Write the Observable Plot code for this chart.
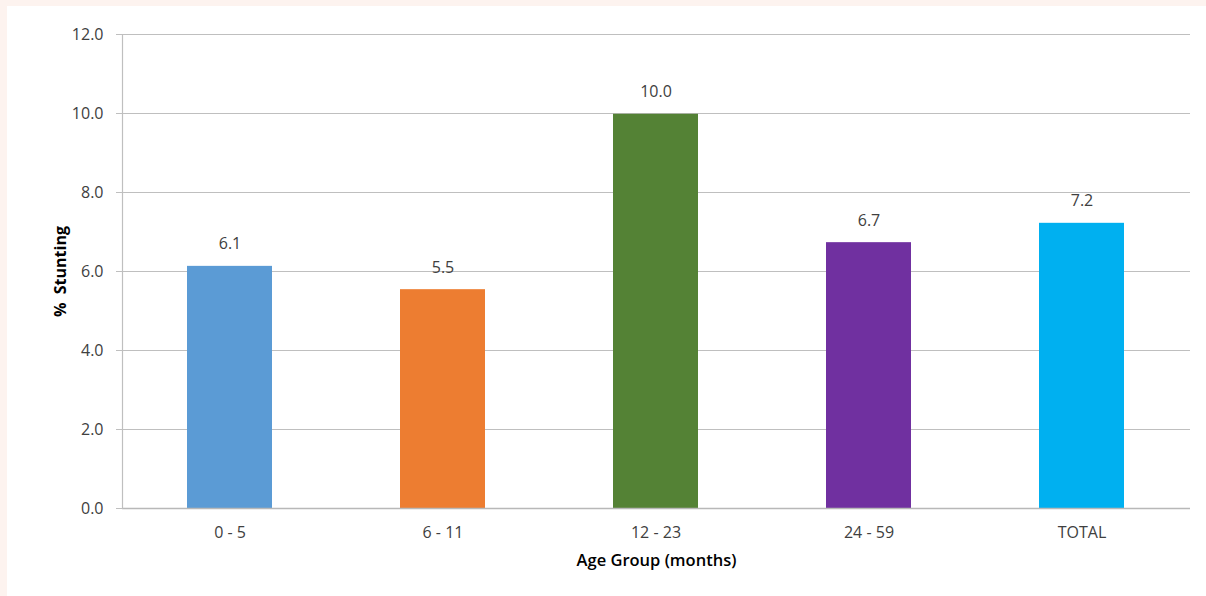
<!DOCTYPE html>
<html>
<head>
<meta charset="utf-8">
<script src="https://cdn.jsdelivr.net/npm/d3@7"></script>
<script src="https://cdn.jsdelivr.net/npm/@observablehq/plot@0.6"></script>
<style>
  html, body { margin: 0; padding: 0; background: #fff; }
  #wrap { width: 1199px; height: 590px; border-top: 6px solid #fdf3ef; border-left: 7px solid #fdf3ef; background: #fff; }
  #wrap svg { display: block; }
</style>
</head>
<body>
<div id="wrap"></div>
<script>
const categories = ["0 - 5", "6 - 11", "12 - 23", "24 - 59", "TOTAL"];
const values = [6.13, 5.54, 9.98, 6.73, 7.22];
const colors = ["#5B9BD5", "#ED7D31", "#548235", "#7030A0", "#00B0F0"];
const yTicks = [0, 2, 4, 6, 8, 10, 12];
const yTitle = "%  Stunting";
const xTitle = "Age Group (months)";

const data = categories.map((c, i) => ({cat: c, value: values[i]}));

const chart = Plot.plot({
  width: 1199,
  height: 590,
  marginLeft: 115,
  marginRight: 16,
  marginTop: 28,
  marginBottom: 88,
  style: {fontFamily: "'Open Sans', sans-serif", fontSize: "16px", color: "#404040", background: "white"},
  x: {domain: categories, paddingInner: 0.6, paddingOuter: 0.3, label: null},
  y: {domain: [0, 12], label: null},
  color: {domain: categories, range: colors},
  marks: [
    Plot.gridY(yTicks, {stroke: "#bfbfbf", strokeOpacity: 1, strokeWidth: 1.2}),
    Plot.barY(data, {x: "cat", y: "value", fill: "cat"}),
    Plot.ruleY([0], {stroke: "#b8b8b8", strokeWidth: 1.5}),
    Plot.frame({anchor: "left", stroke: "#bfbfbf", strokeWidth: 1.2}),
    Plot.axisY(yTicks, {tickFormat: d => d.toFixed(1), tickSize: 6, tickPadding: 13, stroke: "#bfbfbf", label: null, fill: "#404040", fontSize: 16}),
    Plot.axisX({tickSize: 0, tickPadding: 18, label: null, fill: "#404040", fontSize: 16}),
    Plot.text(data, {x: "cat", y: "value", text: d => d.value.toFixed(1), dy: -22, fill: "#404040", fontSize: 16}),
    Plot.text([yTitle], {frameAnchor: "left", textAnchor: "middle", rotate: -90, dx: -62, fontWeight: "bold", fontSize: 16, fill: "#000"}),
    Plot.text([xTitle], {frameAnchor: "bottom", textAnchor: "middle", dy: 57, fontWeight: "600", fontSize: 16.5, fill: "#000"})
  ]
});
document.getElementById("wrap").appendChild(chart);
</script>
</body>
</html>
